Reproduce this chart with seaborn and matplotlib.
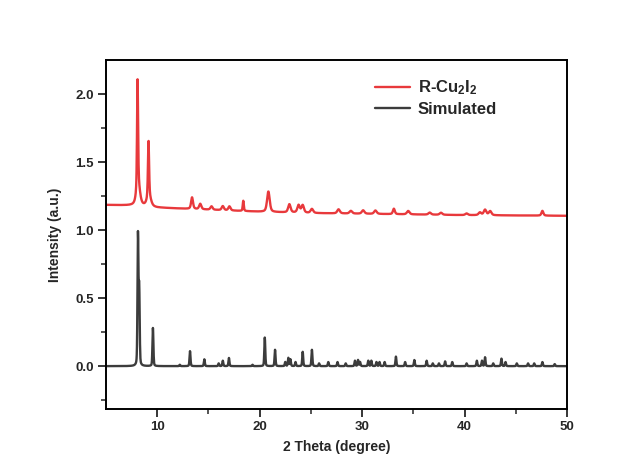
import numpy as np
import pandas as pd
import matplotlib
matplotlib.use("Agg")
import matplotlib.pyplot as plt
import seaborn as sns

# Measured pattern R-Cu2I2: background anchors (2θ, intensity)
bg_theta = [5, 8, 10, 15, 20, 25, 30, 40, 50]
bg_level = [1.185, 1.18, 1.165, 1.15, 1.135, 1.125, 1.12, 1.11, 1.105]

# Measured reflections: position (2θ), height above background, FWHM
meas_pos = [8.08, 8.15, 9.15, 9.2, 13.4, 14.2, 15.3, 16.4, 17.05, 18.4, 20.85,
            22.9, 23.8, 24.2, 25.1, 27.7, 28.9, 30.1, 31.3, 33.1, 34.5, 36.6,
            37.7, 40.2, 41.5, 42.0, 42.5, 47.6]
meas_hgt = [0.80, 0.14, 0.42, 0.07, 0.085, 0.04, 0.025, 0.03, 0.03, 0.075, 0.15,
            0.06, 0.055, 0.055, 0.03, 0.03, 0.02, 0.025, 0.025, 0.04, 0.025, 0.015,
            0.015, 0.012, 0.02, 0.04, 0.03, 0.035]
meas_fwhm = [0.12, 0.4, 0.13, 0.45, 0.22, 0.25, 0.25, 0.25, 0.25, 0.12, 0.3,
             0.28, 0.28, 0.28, 0.3, 0.3, 0.3, 0.3, 0.3, 0.22, 0.3, 0.3,
             0.3, 0.3, 0.3, 0.3, 0.3, 0.22]

# Simulated reflections: position (2θ), height, FWHM
sim_pos = [8.12, 8.24, 9.58, 12.2, 13.2, 14.6, 16.0, 16.4, 17.0, 19.3, 20.5,
           21.5, 22.5, 22.8, 23.0, 23.5, 24.2, 25.1, 25.8, 26.7, 27.6, 28.4,
           29.3, 29.6, 29.8, 30.6, 30.9, 31.4, 31.7, 32.2, 33.3, 34.2, 35.1,
           36.3, 36.9, 37.5, 38.1, 38.8, 40.2, 41.2, 41.7, 42.0, 42.8, 43.6,
           44.0, 45.1, 46.2, 46.8, 47.6, 48.8]
sim_hgt = [0.95, 0.55, 0.28, 0.01, 0.11, 0.05, 0.02, 0.04, 0.06, 0.01, 0.21,
           0.12, 0.03, 0.06, 0.05, 0.03, 0.105, 0.12, 0.02, 0.03, 0.03, 0.02,
           0.04, 0.045, 0.03, 0.04, 0.04, 0.03, 0.03, 0.03, 0.07, 0.03, 0.045,
           0.04, 0.02, 0.02, 0.035, 0.03, 0.02, 0.04, 0.04, 0.065, 0.02, 0.055,
           0.03, 0.02, 0.02, 0.02, 0.03, 0.015]
SIM_FWHM = 0.11

x_ticks = [10, 20, 30, 40, 50]
y_ticks = [0.0, 0.5, 1.0, 1.5, 2.0]

label_meas = r"R-Cu$_2$I$_2$"
label_sim = "Simulated"


def pseudo_voigt(x, pos, hgt, fwhm, eta=0.5):
    s = fwhm / 2.3548
    g = np.exp(-0.5 * ((x - pos) / s) ** 2)
    lo = 1.0 / (1.0 + ((x - pos) / (fwhm / 2)) ** 2)
    return hgt * (eta * lo + (1 - eta) * g)


theta = np.arange(5, 50.0001, 0.02)
meas = np.interp(theta, bg_theta, bg_level)
for p, h, w in zip(meas_pos, meas_hgt, meas_fwhm):
    meas = meas + pseudo_voigt(theta, p, h, w)
sim = np.zeros_like(theta)
for p, h in zip(sim_pos, sim_hgt):
    sim = sim + pseudo_voigt(theta, p, h, SIM_FWHM, eta=0.3)

df = pd.concat([
    pd.DataFrame({"theta": theta, "I": meas, "sample": label_meas}),
    pd.DataFrame({"theta": theta, "I": sim, "sample": label_sim}),
])

sns.set_style("ticks")
plt.rcParams["font.family"] = ["Liberation Sans", "DejaVu Sans"]
plt.rcParams["font.weight"] = "bold"
plt.rcParams["mathtext.fontset"] = "custom"
plt.rcParams["mathtext.rm"] = "Liberation Sans:bold"
plt.rcParams["mathtext.bf"] = "Liberation Sans:bold"
plt.rcParams["mathtext.default"] = "bf"

fig = plt.figure(figsize=(6.43, 4.57), dpi=100)
ax = fig.add_axes([106 / 643, 1 - 409 / 457, 461 / 643, 349 / 457])

palette = {label_meas: "#e8393c", label_sim: "#3c3c3c"}
sns.lineplot(data=df, x="theta", y="I", hue="sample", palette=palette,
             linewidth=1.7, ax=ax, sort=False, estimator=None)

ax.set_xlim(5, 50)
ax.set_ylim(-0.315, 2.25)
ax.set_xticks(x_ticks)
ax.set_yticks(y_ticks)
ax.set_yticklabels([f"{v:.1f}" for v in y_ticks])
ax.set_xticks([15, 25, 35, 45], minor=True)
ax.set_yticks([-0.25, 0.25, 0.75, 1.25, 1.75], minor=True)
ax.tick_params(which="major", direction="out", length=6, width=1.3,
               labelsize=9.5, pad=3)
ax.tick_params(which="minor", direction="out", length=3.5, width=1.1)
for lab in ax.get_xticklabels() + ax.get_yticklabels():
    lab.set_fontweight("bold")
for sp in ax.spines.values():
    sp.set_linewidth(1.4)
    sp.set_color("black")

ax.set_xlabel("2 Theta (degree)", fontsize=10, fontweight="bold", labelpad=5)
ax.set_ylabel("Intensity (a.u.)", fontsize=10, fontweight="bold", labelpad=9)

leg = ax.legend(loc="upper left", bbox_to_anchor=(0.552, 0.99), frameon=False,
                fontsize=12, handlelength=2.1, handletextpad=0.45,
                labelspacing=0.3)
for t in leg.get_texts():
    t.set_fontweight("bold")

fig.savefig("out.png", dpi=100)
